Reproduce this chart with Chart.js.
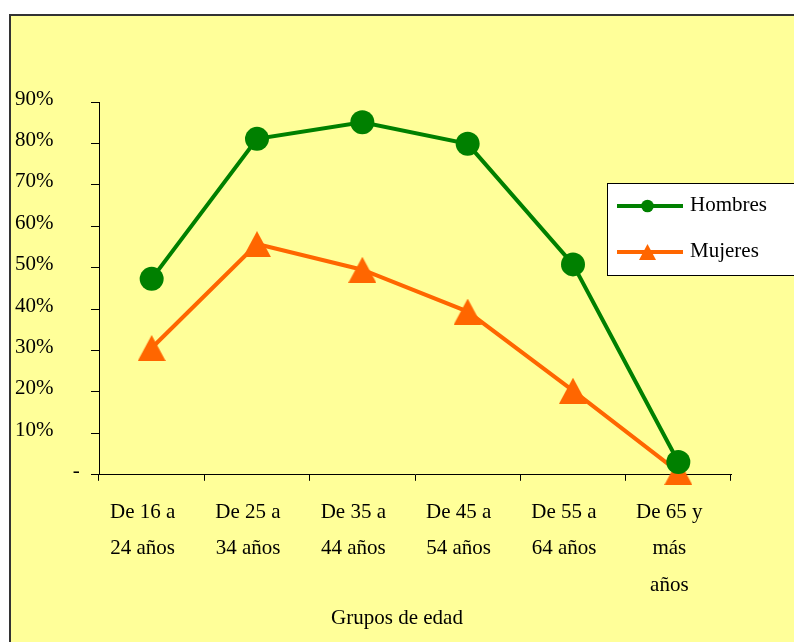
<!DOCTYPE html>
<html>
<head>
<meta charset="utf-8">
<script src="https://cdn.jsdelivr.net/npm/chart.js@4/dist/chart.umd.min.js"></script>
<style>
  html, body { margin: 0; padding: 0; background: #fff; }
  canvas { display: block; }
</style>
</head>
<body>
<canvas id="c" width="794" height="642"></canvas>
<script>
// Age groups (multi-line category labels)
const grupos = [
  ["De 16 a", "24 años"],
  ["De 25 a", "34 años"],
  ["De 35 a", "44 años"],
  ["De 45 a", "54 años"],
  ["De 55 a", "64 años"],
  ["De 65 y", "más", "años"]
];
// Activity rate by sex, in percent
const hombres = [47.3, 81.1, 85.1, 79.9, 50.8, 3.1];
const mujeres = [30.6, 55.7, 49.5, 39.4, 20.3, 0.7];
const seriesNames = ["Hombres", "Mujeres"];
const yMax = 90;
const yStep = 10;
const axisTitle = "Grupos de edad";

const FONT = '"Liberation Serif", "Times New Roman", serif';
const FONT_SIZE = 21;
const GREEN = '#008000';
const ORANGE = '#FF6600';

// Filled triangle bitmap used as a point marker
function triangle(w, h, color) {
  const c = document.createElement('canvas');
  c.width = w; c.height = h;
  const g = c.getContext('2d');
  g.fillStyle = color;
  g.beginPath();
  g.moveTo(w / 2, 0);
  g.lineTo(w, h);
  g.lineTo(0, h);
  g.closePath();
  g.fill();
  return c;
}
const bigTri = triangle(28, 26, ORANGE);
const smallTri = triangle(17, 16, ORANGE);

// Yellow panel with dark left/top edges
const panel = {
  id: 'panel',
  beforeDraw(chart) {
    const ctx = chart.ctx;
    ctx.save();
    ctx.fillStyle = '#FFFF99';
    ctx.fillRect(9, 14, chart.width - 9, chart.height - 14);
    ctx.fillStyle = '#333';
    ctx.fillRect(9, 14, 2, chart.height - 14);
    ctx.fillRect(9, 14, chart.width - 9, 2);
    ctx.restore();
  }
};

// Boxed legend drawn from the datasets
const boxLegend = {
  id: 'boxLegend',
  afterDraw(chart) {
    const ctx = chart.ctx;
    ctx.save();
    ctx.fillStyle = '#fff';
    ctx.fillRect(607.5, 183.5, 200, 92);
    ctx.strokeStyle = '#000';
    ctx.lineWidth = 1;
    ctx.strokeRect(607.5, 183.5, 200, 92);
    const rows = [206, 252];
    chart.data.datasets.forEach((ds, i) => {
      const y = rows[i];
      ctx.strokeStyle = ds.borderColor;
      ctx.lineWidth = 4;
      ctx.beginPath();
      ctx.moveTo(617, y);
      ctx.lineTo(683, y);
      ctx.stroke();
      if (ds.pointStyle === 'circle') {
        ctx.fillStyle = ds.pointBackgroundColor;
        ctx.beginPath();
        ctx.arc(647.5, y, 6.3, 0, Math.PI * 2);
        ctx.fill();
      } else {
        ctx.drawImage(smallTri, 647.5 - smallTri.width / 2, y - 8);
      }
      ctx.fillStyle = '#000';
      ctx.font = FONT_SIZE + 'px ' + FONT;
      ctx.textAlign = 'left';
      ctx.textBaseline = 'middle';
      ctx.fillText(ds.label, 690, y - 1);
    });
    ctx.restore();
  }
};

new Chart(document.getElementById('c'), {
  type: 'line',
  data: {
    labels: grupos,
    datasets: [
      {
        label: seriesNames[0],
        data: hombres,
        borderColor: GREEN,
        backgroundColor: GREEN,
        pointBackgroundColor: GREEN,
        pointBorderColor: GREEN,
        borderWidth: 4,
        pointStyle: 'circle',
        pointRadius: 12,
        pointBorderWidth: 0,
        tension: 0,
        clip: false
      },
      {
        label: seriesNames[1],
        data: mujeres,
        borderColor: ORANGE,
        backgroundColor: ORANGE,
        pointBackgroundColor: ORANGE,
        borderWidth: 4,
        pointStyle: bigTri,
        pointRadius: 13,
        tension: 0,
        clip: false
      }
    ]
  },
  options: {
    responsive: false,
    animation: false,
    events: [],
    layout: { padding: { left: 15, right: 15, top: 102, bottom: 0 } },
    plugins: {
      legend: { display: false },
      tooltip: { enabled: false },
      title: {
        display: true,
        text: axisTitle,
        position: 'bottom',
        color: '#000',
        font: { family: FONT, size: FONT_SIZE, weight: 'normal' },
        padding: { top: 6, bottom: 11 }
      }
    },
    scales: {
      x: {
        offset: true,
        grid: {
          offset: true,
          drawOnChartArea: false,
          color: '#000',
          tickLength: 6
        },
        border: { display: true, color: '#000', width: 1 },
        ticks: {
          color: '#000',
          font: { family: FONT, size: FONT_SIZE, lineHeight: 1.75 },
          padding: 13,
          labelOffset: -9,
          maxRotation: 0,
          autoSkip: false
        },
        afterFit(s) { s.height = 125; }
      },
      y: {
        min: 0,
        max: yMax,
        grid: {
          drawOnChartArea: false,
          color: '#000',
          tickLength: 8
        },
        border: { display: true, color: '#000', width: 1 },
        ticks: {
          stepSize: yStep,
          color: '#000',
          crossAlign: 'far',
          labelOffset: -3,
          font: { family: FONT, size: FONT_SIZE },
          callback: v => v === 0 ? ' '.repeat(11) + '-' : v + '%'
        },
        afterFit(s) { s.width = 84; }
      },
      yR: {
        position: 'right',
        display: true,
        grid: { display: false },
        border: { display: false },
        ticks: { display: false },
        afterFit(s) { s.width = 48; }
      }
    }
  },
  plugins: [panel, boxLegend]
});
</script>
</body>
</html>
